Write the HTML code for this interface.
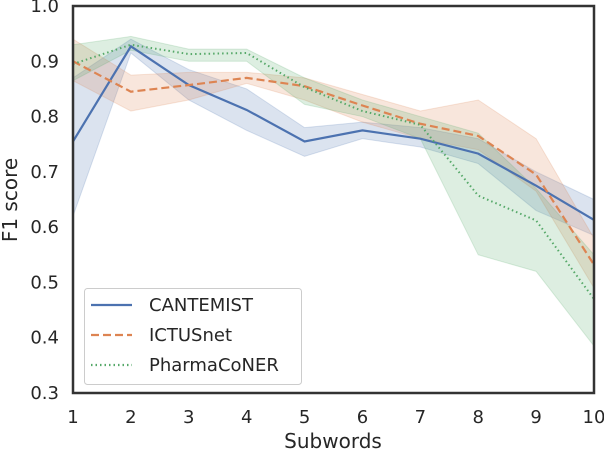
<!DOCTYPE html>
<html><head><meta charset="utf-8"><style>
body{margin:0;background:#fff}
text{font-family:"DejaVu Sans","Liberation Sans",sans-serif;fill:#262626}
</style></head><body>
<svg id="chart" width="604" height="452"></svg>
<script>
const categories=[1,2,3,4,5,6,7,8,9,10];
const yTicks=[0.3,0.4,0.5,0.6,0.7,0.8,0.9,1.0];
const seriesNames=["CANTEMIST","ICTUSnet","PharmaCoNER"];
const cantemist=[0.755,0.927,0.857,0.812,0.755,0.775,0.76,0.733,0.675,0.613];
const cantemistLo=[0.62,0.915,0.83,0.775,0.728,0.76,0.745,0.715,0.63,0.585];
const cantemistHi=[0.87,0.94,0.885,0.85,0.78,0.79,0.78,0.76,0.70,0.65];
const ictus=[0.9,0.845,0.857,0.87,0.855,0.82,0.787,0.765,0.695,0.532];
const ictusLo=[0.865,0.81,0.83,0.86,0.83,0.79,0.76,0.74,0.665,0.49];
const ictusHi=[0.94,0.875,0.88,0.88,0.87,0.84,0.81,0.83,0.76,0.58];
const pharma=[0.895,0.93,0.913,0.915,0.853,0.81,0.785,0.657,0.612,0.47];
const pharmaLo=[0.865,0.92,0.9,0.9,0.822,0.8,0.76,0.55,0.52,0.385];
const pharmaHi=[0.93,0.945,0.922,0.922,0.87,0.83,0.80,0.77,0.67,0.55];
const L=73,R=594,T=6,B=393;
const xs=v=>L+(v-1)/9*(R-L);
const ys=v=>B-(v-0.3)/0.7*(B-T);
const svg=document.getElementById('chart');
const NS='http://www.w3.org/2000/svg';
function mk(t,a,p){const e=document.createElementNS(NS,t);for(const k in a)e.setAttribute(k,a[k]);(p||svg).appendChild(e);return e;}
const series=[
 {n:"cantemist",v:cantemist,lo:cantemistLo,hi:cantemistHi,c:"#4c72b0",d:""},
 {n:"ictusnet",v:ictus,lo:ictusLo,hi:ictusHi,c:"#dd8452",d:"8,4"},
 {n:"pharmaconer",v:pharma,lo:pharmaLo,hi:pharmaHi,c:"#55a868",d:"1.5,3"}];
series.forEach(s=>{
 let p=categories.map((c,i)=>xs(c)+','+ys(s.hi[i])).join(' ')+' '+categories.slice().reverse().map((c,j)=>{const i=categories.length-1-j;return xs(c)+','+ys(s.lo[i]);}).join(' ');
 const b=mk('polygon',{points:p,fill:s.c,'fill-opacity':0.2,stroke:s.c,'stroke-opacity':0.2});
 
 
});
series.forEach(s=>{
 const l=mk('polyline',{points:categories.map((c,i)=>xs(c)+','+ys(s.v[i])).join(' '),fill:'none',stroke:s.c,'stroke-width':s.n=='pharmaconer'?2:2.2,'stroke-dasharray':s.d});
 
 
});
const fr=mk('rect',{x:L,y:T,width:R-L,height:B-T,fill:'none',stroke:'#333','stroke-width':2.5});


categories.forEach(c=>{const t=mk('text',{x:xs(c),y:423,'text-anchor':'middle','font-size':18});t.textContent=c;

});
yTicks.forEach(v=>{const t=mk('text',{x:59,y:ys(v)+6,'text-anchor':'end','font-size':18});t.textContent=v.toFixed(1);

});
const xt=mk('text',{x:333,y:448,'text-anchor':'middle','font-size':20});xt.textContent='Subwords';


const yt=mk('text',{x:0,y:0,'text-anchor':'middle','font-size':20,transform:'translate(17,200) rotate(-90)'});yt.textContent='F1 score';


const lg=mk('g',{});


mk('rect',{x:84.5,y:288.5,width:217,height:96,rx:3,fill:'#fff','fill-opacity':0.8,stroke:'#ccc'},lg);
series.forEach((s,i)=>{const y=305+i*30;
 const ln=mk('line',{x1:91,x2:132,y1:y,y2:y,stroke:s.c,'stroke-width':2.2,'stroke-dasharray':s.d},lg);
 
 
 const t=mk('text',{x:149,y:y+6,'font-size':18},lg);t.textContent=seriesNames[i];
 
 });
</script>
</body></html>
